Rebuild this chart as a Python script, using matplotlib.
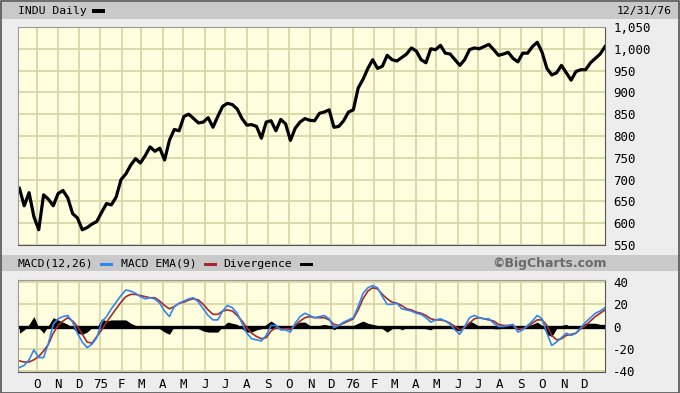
import numpy as np
import pandas as pd
import matplotlib
matplotlib.use('Agg')
from matplotlib import pyplot as plt
from matplotlib.patches import Rectangle

# weekly closes, Sep 1974 - Dec 1976
dates = pd.date_range('1974-09-06', '1976-12-31', freq='W-FRI')

price = [680, 640, 670, 615, 585, 665, 655, 640, 668, 675, 658, 622, 612, 585, 590, 598, 604,
         625, 645, 642, 660, 700, 713, 733, 748, 738, 755, 775, 765, 772, 745, 790, 815, 812,
         845, 850, 840, 830, 832, 842, 820, 845, 868, 875, 872, 862, 840, 825, 826, 822, 795,
         832, 835, 812, 838, 828, 790, 818, 832, 840, 836, 835, 852, 855, 860, 820, 822, 835,
         855,
         860, 910, 930, 955, 975, 955, 960, 985, 975, 972, 980, 988, 1002, 995, 975, 968, 1000,
         998, 1008, 990, 988, 975, 962, 975, 998, 1002, 1000, 1005, 1010, 998, 985, 988, 992,
         978, 970, 990, 990, 1005, 1015, 992, 955, 940, 945, 962, 945, 928, 948, 952, 952, 968,
         978, 988, 1005]

macd = [-37, -35, -30, -21, -28, -28, -15, 2, 7, 9, 10, 4, -6, -14, -19, -16, -10,
        4, 9, 16, 22, 28, 33, 32, 30, 27, 25, 26, 25, 21, 14, 9, 18, 21, 23, 25, 26, 22, 16,
        10, 6, 6, 14, 19, 17, 12, 3, -6, -11, -12, -13, -8, 1, 1, -3, -3, -5, 3, 9, 12, 10,
        8, 9, 10, 7, -1, 1, 4, 6,
        8, 18, 30, 35, 37, 35, 27, 20, 20, 21, 16, 15, 14, 12, 11, 8, 4, 6, 7, 5, 2, -3, -7,
        0, 8, 10, 8, 7, 7, 3, 0, 0, 1, 2, -5, -3, 1, 5, 10, 7, -6, -17, -14, -10, -6, -8,
        -6, -1, 4, 8, 12, 14, 17]

signal = [-31, -32, -32, -30, -27, -22, -16, -6, 1, 5, 8, 5, 0, -7, -14, -15, -9,
          -3, 4, 10, 16, 22, 27, 29, 29, 28, 27, 26, 26, 23, 19, 16, 18, 21, 22, 24, 25, 24,
          20, 15, 11, 11, 14, 15, 14, 10, 5, -1, -6, -9, -11, -10, -4, -1, -2, -2, -2, 1, 5,
          8, 9, 8, 8, 8, 6, 2, 1, 3, 5,
          7, 15, 25, 32, 35, 34, 29, 25, 22, 21, 19, 16, 15, 13, 12, 10, 7, 6, 6, 5, 3, 0,
          -3, -1, 3, 7, 8, 7, 6, 5, 2, 1, 1, 1, -2, -2, 0, 3, 6, 6, 1, -8, -12, -11, -8, -7,
          -6, -2, 1, 5, 9, 12, 15]

month_labels = ['O', 'N', 'D', '75', 'F', 'M', 'A', 'M', 'J', 'J', 'A', 'S', 'O', 'N', 'D',
                '76', 'F', 'M', 'A', 'M', 'J', 'J', 'A', 'S', 'O', 'N', 'D']
price_ticks = [550, 600, 650, 700, 750, 800, 850, 900, 950, 1000, 1050]
macd_ticks = [-40, -20, 0, 20, 40]

divergence = np.array(macd) - np.array(signal)

bg = '#EDEDED'
bar = '#C9C9C9'
panel = '#FFFFE0'
gridc = '#D9D6A6'
mono = 'DejaVu Sans Mono'
fs = 8.2

fig = plt.figure(figsize=(6.8, 3.93), dpi=100, facecolor=bg)

# header bars + frame
fig.patches.append(Rectangle((0, 1 - 19/393), 1, 17/393, transform=fig.transFigure,
                             facecolor=bar, edgecolor='none', zorder=0))
fig.patches.append(Rectangle((0, 1 - 271/393), 1, 16/393, transform=fig.transFigure,
                             facecolor=bar, edgecolor='none', zorder=0))
fig.patches.append(Rectangle((0.001, 0.001), 0.997, 0.996, transform=fig.transFigure,
                             facecolor='none', edgecolor='#555555', lw=1.2, zorder=5))

month_starts = pd.date_range('1974-10-01', '1976-12-01', freq='MS')
xmin = pd.Timestamp('1974-09-04')
xmax = pd.Timestamp('1976-12-31')

ax = fig.add_axes([18/680, 1 - 245/393, 587/680, 218/393])
ax2 = fig.add_axes([18/680, 1 - 372/393, 587/680, 92/393])

for a in (ax, ax2):
    a.set_facecolor(panel)
    a.set_xlim(xmin, xmax)
    a.set_xticks(month_starts)
    a.grid(True, color=gridc, lw=1.3)
    a.set_axisbelow(True)
    a.yaxis.tick_right()
    a.tick_params(length=0, labelsize=9, pad=6, colors='black')
    for s in a.spines.values():
        s.set_color('#9A9A9A')
    a.spines['bottom'].set_color('#555555')
    a.spines['right'].set_color('#555555')

ax.plot(dates, price, color='black', lw=2.3)
ax.set_ylim(550, 1050)
ax.set_yticks(price_ticks)
ax.set_yticklabels([f'{v:,}' for v in price_ticks], family=mono, fontsize=9)
ax.set_xticklabels([])

ax2.fill_between(dates, 0, divergence, color='black', lw=0)
ax2.axhline(0, color='black', lw=2.4)
ax2.plot(dates, signal, color='#A52A2A', lw=1.2)
ax2.plot(dates, macd, color='#2F86F0', lw=1.2)
ax2.set_ylim(-41, 42)
ax2.set_yticks(macd_ticks)
ax2.set_yticklabels([str(v) for v in macd_ticks], family=mono, fontsize=9)
ax2.set_xticklabels(month_labels, family=mono, fontsize=9)
ax2.tick_params(axis='x', pad=4)


def legend_bar(x0, y, color):
    fig.patches.append(Rectangle((x0/680, 1 - (y + 1.5)/393), 13/680, 3/393,
                                 transform=fig.transFigure, facecolor=color, zorder=3))


# header texts
fig.text(18/680, 1 - 11/393, 'INDU Daily', family=mono, fontsize=fs, va='center')
legend_bar(92, 11, 'black')
fig.text(672/680, 1 - 11/393, '12/31/76', family=mono, fontsize=fs, va='center', ha='right')

fig.text(17/680, 1 - 264/393, 'MACD(12,26)', family=mono, fontsize=fs, va='center')
legend_bar(100, 264, '#2F86F0')
fig.text(121/680, 1 - 264/393, 'MACD EMA(9)', family=mono, fontsize=fs, va='center')
legend_bar(204, 264, '#A52A2A')
fig.text(223/680, 1 - 264/393, 'Divergence', family=mono, fontsize=fs, va='center')
legend_bar(300, 264, 'black')
fig.text(607/680, 1 - 264/393, '\u00a9BigCharts.com', fontsize=9, fontweight='bold',
         color='#6A6A6A', va='center', ha='right')

plt.savefig('out.png', dpi=100, facecolor=bg)
